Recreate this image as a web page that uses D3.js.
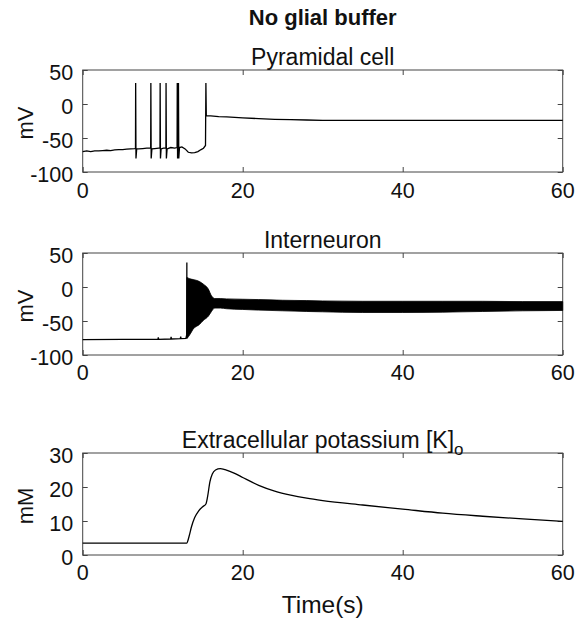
<!DOCTYPE html>
<html><head><meta charset="utf-8">
<script src="https://cdn.jsdelivr.net/npm/d3@7/dist/d3.min.js"></script>
<style>
body{margin:0;background:#fff}
text{font-family:"Liberation Sans",Arial,Helvetica,sans-serif;fill:#111}
</style>
</head><body>
<svg id="chart" width="580" height="622"></svg>
<script>
// ---------- data ----------
const timeTicks = [0, 20, 40, 60];
const mvTicks = [50, 0, -50, -100];
const mmTicks = [30, 20, 10, 0];

// Pyramidal cell membrane potential (s, mV)
const pyrTime = [0,0.5,1,1.5,2,2.5,3,3.5,4,4.5,5,5.5,6,6.5,6.6,6.62,6.66,6.75,7,7.5,8,8.5,8.52,8.56,8.65,9,9.5,9.66,9.68,9.72,9.8,10.1,10.4,10.42,10.46,10.55,11,11.5,11.8,11.82,11.86,11.95,11.97,12.01,12.1,12.4,12.8,13.2,13.6,14.0,14.4,14.8,15.1,15.35,15.4,15.45,16,17,18,20,22,24,26,28,30,35,40,45,50,55,60];
const pyrVolt = [-70,-69,-70,-69,-69,-68.5,-68,-68.5,-67.5,-67,-67,-66.5,-66,-65.5,-65,31,-80,-66,-66,-65.5,-65,-65,31,-80,-66,-65.5,-65,-65,31,-80,-66,-65,-65,31,-80,-66,-64,-65,-64,31,-80,-64,31,-80,-64,-63,-66,-71,-72,-71.5,-70,-67,-65,-61,31,-17,-17.5,-18.5,-19,-20.5,-21.5,-22.5,-23,-23.5,-24,-24,-24,-24,-24,-24,-24];

// Interneuron: resting trace up to the first spike (s, mV)
const intTime = [0,5,9.4,9.45,9.5,11,11.05,11.1,12.2,12.25,12.3,12.9,12.95,13.0,13.02];
const intVolt = [-77.5,-77,-77,-74,-77,-76.5,-73.5,-76.5,-76,-73,-76,-75.5,-73,-75,36];
// Interneuron: envelope of the fast oscillation (s, mV)
const bandTime  = [13.02,13.4,13.8,14.6,15.1,15.7,16.1,16.5,17.2,18,20,22,25,28,30,35,40,45,50,55,60];
const bandUpper = [14,12,11,8,4,-3,-13,-17,-17,-17.5,-18,-18.5,-19.5,-20,-20.5,-21,-21,-21,-21,-21.5,-21.5];
const bandLower = [-76,-70,-62,-55,-49,-43,-36,-31,-31,-32,-33,-34,-35,-36,-36.5,-37.5,-37.5,-37,-36,-35,-34.5];

// Extracellular potassium (s, mM)
const kTime = [0,13.0,13.3,13.6,14.0,14.5,15.0,15.4,15.6,15.9,16.2,16.6,17.2,17.8,19,20,22,24,26,28,30,35,40,45,50,55,60];
const kConc = [3.5,3.5,5.5,8.3,11,13,14.2,15,17,21.5,23.8,25,25.4,25.1,24,22.8,20.5,18.8,17.6,16.7,16.0,14.7,13.5,12.3,11.4,10.6,9.9];

// ---------- layout ----------
const svg = d3.select("#chart");
const X0 = 82.7, X1 = 562.7, PH = 102;
const x = d3.scaleLinear().domain([0, 60]).range([X0, X1]);

svg.append("text").attr("x", (X0 + X1) / 2).attr("y", 25)
  .attr("text-anchor", "middle").style("font-weight", "bold").style("font-size", "22px")
  .text("No glial buffer");

function panel(top, domain, ticks, ylabel, title, sub, xlOff) {
  const y = d3.scaleLinear().domain(domain).range([top + PH, top]);
  const g = svg.append("g");
  g.append("rect").attr("x", X0).attr("y", top).attr("width", X1 - X0).attr("height", PH)
    .attr("fill", "none").attr("stroke", "#444").attr("stroke-width", 1);
  const axB = d3.axisTop(x).tickValues(timeTicks).tickSize(5).tickFormat("");
  const axT = d3.axisBottom(x).tickValues(timeTicks).tickSize(5).tickFormat("");
  const axL = d3.axisRight(y).tickValues(ticks).tickSize(5).tickFormat("");
  const axR = d3.axisLeft(y).tickValues(ticks).tickSize(5).tickFormat("");
  [[axB, `translate(0,${top + PH})`], [axT, `translate(0,${top})`],
   [axL, `translate(${X0},0)`], [axR, `translate(${X1},0)`]].forEach(([a, t]) => {
    const s = g.append("g").attr("transform", t).call(a);
    s.select(".domain").remove();
    s.selectAll("line").attr("stroke", "#444");
  });
  g.selectAll(".xl").data(timeTicks).join("text")
    .attr("x", d => x(d)).attr("y", top + PH + xlOff)
    .attr("text-anchor", "middle").style("font-size", "21.5px").text(d => d);
  g.selectAll(".yl").data(ticks).join("text")
    .attr("x", X0 - 9.5).attr("y", d => y(d) + 10)
    .attr("text-anchor", "end").style("font-size", "21.5px").text(d => d);
  g.append("text").attr("transform", `translate(33,${top + PH / 2 + 2}) rotate(-90)`)
    .attr("text-anchor", "middle").style("font-size", "22px").text(ylabel);
  const tt = g.append("text").attr("x", (X0 + X1) / 2).attr("y", top - 5)
    .attr("text-anchor", "middle").style("font-size", "23px").text(title);
  if (sub) tt.append("tspan").attr("dy", 7).style("font-size", "17px").text(sub);
  return {g, y};
}

// Pyramidal
const p1 = panel(70, [-100, 50], mvTicks, "mV", "Pyramidal cell", null, 26);
p1.g.append("path").datum(d3.zip(pyrTime, pyrVolt))
  .attr("fill", "none").attr("stroke", "#000").attr("stroke-width", 1.3)
  .attr("d", d3.line().x(d => x(d[0])).y(d => p1.y(d[1])));

// Interneuron
const p2 = panel(253, [-100, 50], mvTicks, "mV", "Interneuron", null, 25);
p2.g.append("path").datum(d3.zip(intTime, intVolt))
  .attr("fill", "none").attr("stroke", "#000").attr("stroke-width", 1.3)
  .attr("d", d3.line().x(d => x(d[0])).y(d => p2.y(d[1])));
p2.g.append("path").datum(d3.zip(bandTime, bandUpper, bandLower))
  .attr("fill", "#000").attr("stroke", "#000").attr("stroke-width", 0.8)
  .attr("d", d3.area().curve(d3.curveMonotoneX).x(d => x(d[0])).y0(d => p2.y(d[2])).y1(d => p2.y(d[1])));

// Potassium
const p3 = panel(453, [0, 30], mmTicks, "mM", "Extracellular potassium [K]", "o", 25);
p3.g.append("path").datum(d3.zip(kTime, kConc))
  .attr("fill", "none").attr("stroke", "#000").attr("stroke-width", 1.3)
  .attr("d", d3.line().curve(d3.curveMonotoneX).x(d => x(d[0])).y(d => p3.y(d[1])));

svg.append("text").attr("x", (X0 + X1) / 2).attr("y", 613)
  .attr("text-anchor", "middle").style("font-size", "24.5px").text("Time(s)");
</script>
</body></html>
